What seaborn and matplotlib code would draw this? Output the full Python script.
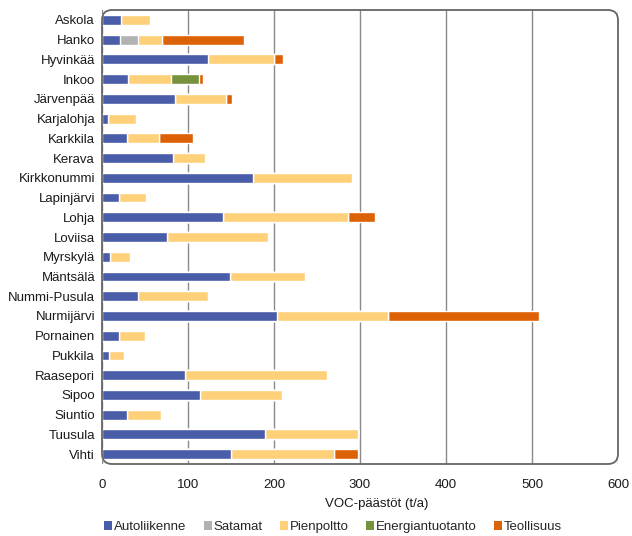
import matplotlib
matplotlib.use("Agg")
import matplotlib.pyplot as plt
from matplotlib.patches import FancyBboxPatch, Patch
from matplotlib.transforms import IdentityTransform
import pandas as pd
import seaborn as sns

municipalities = [
    "Askola", "Hanko", "Hyvinkää", "Inkoo", "Järvenpää", "Karjalohja",
    "Karkkila", "Kerava", "Kirkkonummi", "Lapinjärvi", "Lohja", "Loviisa",
    "Myrskylä", "Mäntsälä", "Nummi-Pusula", "Nurmijärvi", "Pornainen",
    "Pukkila", "Raasepori", "Sipoo", "Siuntio", "Tuusula", "Vihti",
]

autoliikenne = [22, 21, 123, 30, 85, 7, 29, 82, 175, 20, 141, 75, 9, 149, 42, 204, 20, 8, 96, 114, 29, 189, 150]
satamat = [0, 21, 0, 0, 0, 0, 0, 0, 0, 0, 0, 0, 0, 0, 0, 0, 0, 0, 0, 0, 0, 0, 0]
pienpoltto = [34, 28, 77, 50, 59, 33, 37, 38, 116, 31, 145, 118, 23, 87, 81, 128, 30, 17, 166, 95, 40, 109, 120]
energiantuotanto = [0, 0, 0, 33, 0, 0, 0, 0, 0, 0, 0, 0, 0, 0, 0, 0, 0, 0, 0, 0, 0, 0, 0]
teollisuus = [0, 95, 11, 4, 7, 0, 40, 0, 0, 0, 31, 0, 0, 0, 0, 176, 0, 0, 0, 0, 0, 0, 28]

series_names = ["Autoliikenne", "Satamat", "Pienpoltto", "Energiantuotanto", "Teollisuus"]
series_values = [autoliikenne, satamat, pienpoltto, energiantuotanto, teollisuus]
series_colors = ["#4A5DA9", "#B2B2B2", "#FED07A", "#76923C", "#DD6205"]

x_ticks = [0, 100, 200, 300, 400, 500, 600]
x_label = "VOC-päästöt (t/a)"

df = pd.DataFrame({"kunta": municipalities})
for name, vals in zip(series_names, series_values):
    df[name] = vals
cum = df[series_names].cumsum(axis=1)

sns.set_theme(style="white")
plt.rcParams["font.family"] = ["Liberation Sans", "DejaVu Sans"]

W, H, DPI = 632, 536, 100
fig = plt.figure(figsize=(W / DPI, H / DPI), dpi=DPI)
ax_l, ax_r, ax_t, ax_b = 102, 618, 10, 464
ax = fig.add_axes([ax_l / W, (H - ax_b) / H, (ax_r - ax_l) / W, (ax_b - ax_t) / H])

# Stacked bars: draw cumulative totals from the outermost layer inwards
for i in range(len(series_names) - 1, -1, -1):
    sns.barplot(
        x=cum[series_names[i]], y=df["kunta"], orient="h",
        color=series_colors[i], width=0.5, errorbar=None,
        saturation=1, ax=ax, zorder=2,
    )

n = len(municipalities)
ax.set_ylim(n - 0.5, -0.5)
ax.set_xlim(0, 600)
ax.set_xticks(x_ticks)
ax.set_xticklabels([str(t) for t in x_ticks])
ax.set_ylabel("")
ax.set_xlabel(x_label, fontsize=9.5, color="#1a1a1a")
ax.xaxis.set_label_coords((377 - ax_l) / (ax_r - ax_l), -0.075)
ax.tick_params(axis="x", length=0, pad=11, labelsize=9.5, labelcolor="#1a1a1a")
ax.tick_params(axis="y", length=0, pad=5, labelsize=9.5, labelcolor="#1a1a1a")
for s in ax.spines.values():
    s.set_visible(False)
ax.xaxis.grid(True, color="#8A8A8A", linewidth=1.0, zorder=0)
ax.yaxis.grid(False)
ax.set_axisbelow(True)
ax.patch.set_alpha(0)

# Rounded frame around the plotting area (pixel coordinates)
frame = FancyBboxPatch(
    (ax_l, H - ax_b), ax_r - ax_l, ax_b - ax_t,
    boxstyle="round,pad=0,rounding_size=10",
    transform=IdentityTransform(), facecolor="none",
    edgecolor="#666666", linewidth=1.3, zorder=5,
)
fig.add_artist(frame)

handles = [Patch(facecolor=c, edgecolor="none") for c in series_colors]
fig.legend(
    handles, series_names, loc="center", bbox_to_anchor=(333 / W, 1 - 527 / H),
    ncol=5, frameon=False, fontsize=9.5, handlelength=0.6, handleheight=0.6,
    handletextpad=0.15, columnspacing=1.3, borderaxespad=0,
)

fig.savefig("out.png", dpi=DPI)
